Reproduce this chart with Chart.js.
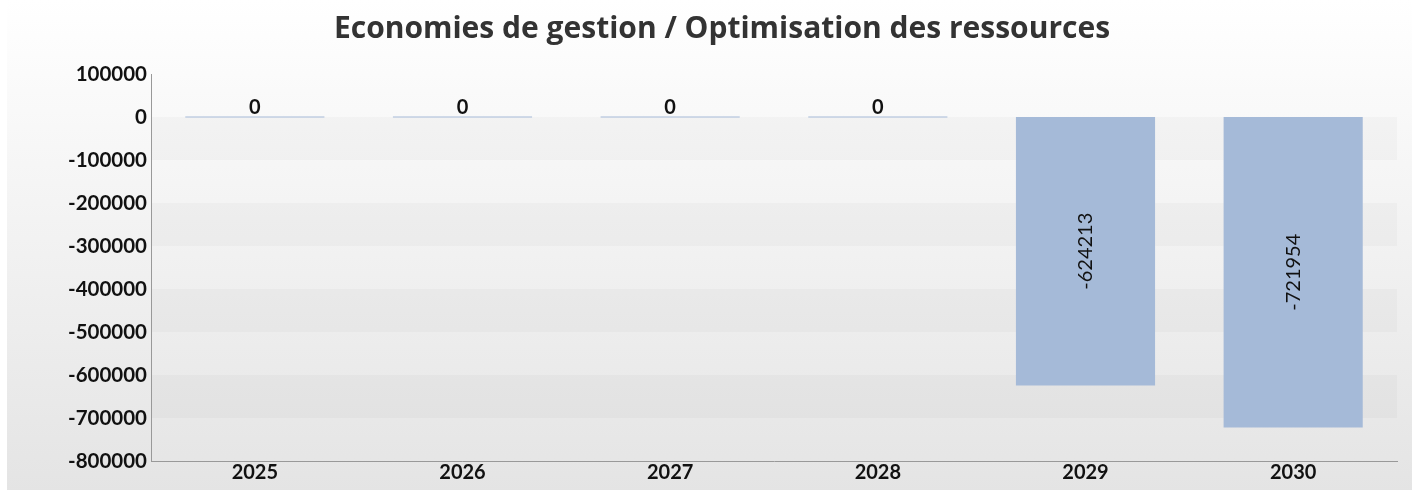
<!DOCTYPE html>
<html>
<head>
<meta charset="utf-8">
<script src="https://cdn.jsdelivr.net/npm/chart.js@4.4.1/dist/chart.umd.min.js"></script>
<style>
  html, body { margin: 0; padding: 0; background: #fff; }
  canvas { display: block; }
</style>
</head>
<body>
<canvas id="chart" width="1419" height="493"></canvas>
<script>
// données
const years = ['2025', '2026', '2027', '2028', '2029', '2030'];
const economies = [0, 0, 0, 0, -624213, -721954];
const yTicks = [100000, 0, -100000, -200000, -300000, -400000, -500000, -600000, -700000, -800000];
const titre = 'Economies de gestion / Optimisation des ressources';

// fond dégradé + bandes alternées + titre
const bgPlugin = {
    id: 'bg',
    beforeDraw(chart) {
        const { ctx, chartArea, scales } = chart;
        const g = ctx.createLinearGradient(0, 0, 0, chart.height);
        g.addColorStop(0, '#ffffff');
        g.addColorStop(1, '#e4e4e4');
        ctx.save();
        ctx.fillStyle = '#ffffff';
        ctx.fillRect(0, 0, chart.width, chart.height);
        ctx.fillStyle = g;
        ctx.fillRect(7, 0, chart.width - 14, chart.height - 3);
        for (let i = 0; i < yTicks.length - 1; i++) {
            if (i % 2 === 1) {
                const y1 = scales.y.getPixelForValue(yTicks[i]);
                const y2 = scales.y.getPixelForValue(yTicks[i + 1]);
                ctx.fillStyle = 'rgba(0,0,0,0.025)';
                ctx.fillRect(chartArea.left, y1, chartArea.right - chartArea.left, y2 - y1);
            }
        }
        ctx.fillStyle = '#333';
        ctx.font = 'bold 30px "Open Sans"';
        ctx.textAlign = 'center';
        ctx.textBaseline = 'middle';
        ctx.fillText(titre, 722, 29);
        ctx.restore();
    }
};

// étiquettes de valeurs
const labelPlugin = {
    id: 'valueLabels',
    afterDatasetsDraw(chart) {
        const { ctx } = chart;
        const meta = chart.getDatasetMeta(0);
        ctx.save();
        ctx.fillStyle = '#111';
        meta.data.forEach((bar, i) => {
            const v = economies[i];
            if (v === 0) {
                ctx.font = 'bold 20px Lato';
                ctx.textAlign = 'center';
                ctx.textBaseline = 'alphabetic';
                ctx.fillText('0', bar.x, bar.base - 3);
            } else {
                ctx.font = '20px Lato';
                ctx.textAlign = 'center';
                ctx.textBaseline = 'middle';
                ctx.translate(bar.x, (bar.y + bar.base) / 2);
                ctx.rotate(-Math.PI / 2);
                ctx.fillText(String(v), 0, 0);
                ctx.setTransform(1, 0, 0, 1, 0, 0);
            }
        });
        ctx.restore();
    }
};

new Chart(document.getElementById('chart'), {
    type: 'bar',
    data: {
        labels: years,
        datasets: [{
            data: economies,
            backgroundColor: '#a5bad8',
            borderWidth: 0,
            minBarLength: 1,
            barPercentage: 0.67,
            categoryPercentage: 1
        }]
    },
    options: {
        responsive: false,
        animation: false,
        devicePixelRatio: 1,
        layout: { padding: { left: 0, right: 22, top: 74, bottom: 8 } },
        plugins: {
            legend: { display: false },
            tooltip: { enabled: false },
            title: { display: false }
        },
        scales: {
            x: {
                grid: { display: false, drawTicks: false },
                border: { display: true, color: '#999' },
                ticks: {
                    color: '#111', maxRotation: 0, autoSkip: false,
                    font: { family: 'Lato', size: 20, weight: 'bold' }, padding: 0
                }
            },
            y: {
                min: -800000,
                max: 100000,
                afterFit(scale) { scale.width = 151; },
                afterBuildTicks(scale) { scale.ticks = yTicks.map(v => ({ value: v })); },
                grid: { display: false, drawTicks: true, tickLength: 3 },
                border: { display: true, color: '#999' },
                ticks: {
                    color: '#111', autoSkip: false, padding: 1,
                    font: { family: 'Lato', size: 20.5, weight: 'bold' },
                    callback: v => String(v)
                }
            }
        }
    },
    plugins: [bgPlugin, labelPlugin]
});
</script>
</body>
</html>
